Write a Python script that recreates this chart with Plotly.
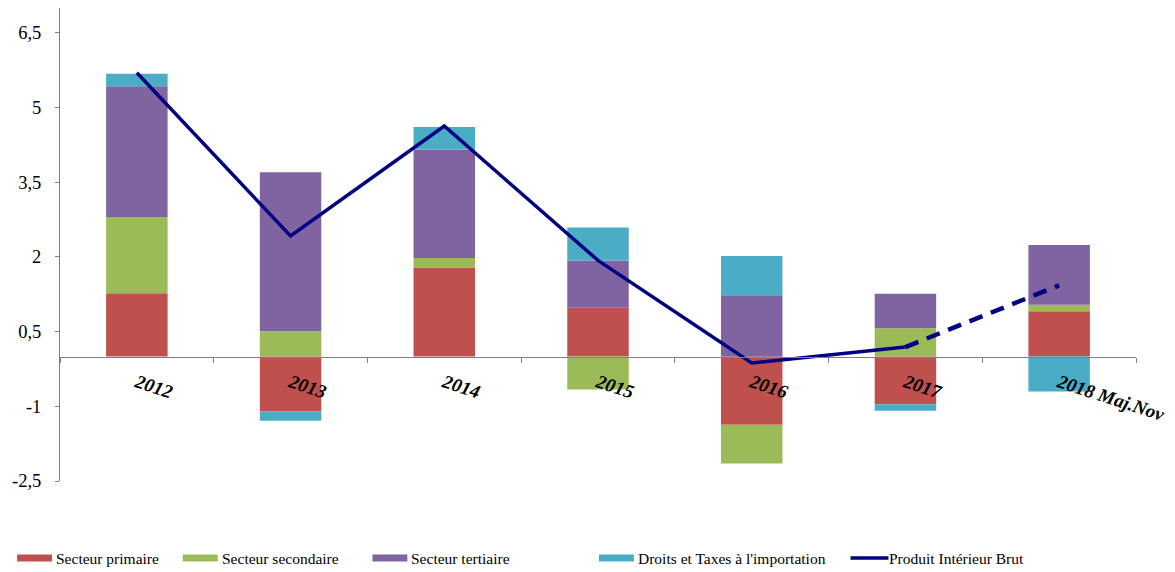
import plotly.graph_objects as go

# Contributions à la croissance du PIB (points de pourcentage)
years = ["2012", "2013", "2014", "2015", "2016", "2017", "2018 Maj.Nov"]
primaire = [1.27, -1.10, 1.79, 0.98, -1.37, -0.96, 0.91]
secondaire = [1.53, 0.51, 0.19, -0.66, -0.78, 0.57, 0.13]
tertiaire = [2.63, 3.19, 2.18, 0.95, 1.23, 0.69, 1.20]
droits = [0.25, -0.19, 0.45, 0.66, 0.79, -0.13, -0.70]
pib = [5.70, 2.42, 4.63, 1.93, -0.13, 0.19, 1.43]

y_ticks = [-2.5, -1, 0.5, 2, 3.5, 5, 6.5]
y_tick_labels = ["-2,5", "-1", "0,5", "2", "3,5", "5", "6,5"]

series = [
    ("Secteur primaire", primaire, "#C0504D"),
    ("Secteur secondaire", secondaire, "#9BBB59"),
    ("Secteur tertiaire", tertiaire, "#8064A2"),
    ("Droits et Taxes à l'importation", droits, "#4BACC6"),
]
pib_name = "Produit Intérieur Brut"
pib_color = "#000080"

FONT = "Liberation Serif"
W, H = 1175, 572
M_L, M_R, M_T, M_B = 60, 37, 8, 91
Y_RANGE = [-2.5, 7.0]

fig = go.Figure()
for name, vals, color in series:
    fig.add_trace(go.Bar(
        x=years, y=vals, name=name, marker_color=color,
        marker_line_width=0, showlegend=False,
    ))

# PIB: observed years solid, last period dashed
fig.add_trace(go.Scatter(
    x=years[:-1], y=pib[:-1], mode="lines", name=pib_name,
    line=dict(color=pib_color, width=3.5), showlegend=False,
))
fig.add_trace(go.Scatter(
    x=years[-2:], y=pib[-2:], mode="lines", name=pib_name,
    line=dict(color=pib_color, width=4.5, dash="14px,9px"), showlegend=False,
))

zero_pos = (0 - Y_RANGE[0]) / (Y_RANGE[1] - Y_RANGE[0])

fig.update_layout(
    width=W, height=H,
    margin=dict(l=M_L, r=M_R, t=M_T, b=M_B),
    paper_bgcolor="white", plot_bgcolor="white",
    barmode="relative", bargap=0.6,
    font=dict(family=FONT, color="black"),
    xaxis=dict(
        type="category", anchor="free", position=zero_pos,
        showline=True, linecolor="#7f7f7f", linewidth=1,
        ticks="outside", tickson="boundaries", ticklen=5, tickcolor="#7f7f7f",
        tickangle=18, ticklabelstandoff=7,
        tickfont=dict(family=FONT, size=19, weight="bold", style="italic", color="black"),
        showgrid=False, zeroline=False,
    ),
    yaxis=dict(
        range=Y_RANGE, tickvals=y_ticks, ticktext=y_tick_labels,
        showline=True, linecolor="#7f7f7f", linewidth=1,
        ticks="outside", ticklen=4, tickcolor="#7f7f7f", ticklabelstandoff=10,
        tickfont=dict(family=FONT, size=18.5, color="black"),
        showgrid=False, zeroline=False,
    ),
    showlegend=False,
)

# Legend row below the chart
plot_w = W - M_L - M_R
plot_h = H - M_T - M_B


def px_x(px):
    return (px - M_L) / plot_w


def px_y(py):
    return (H - M_B - py) / plot_h


legend_y = 558
legend_items = [
    ("bar", series[0][0], series[0][2], 17),
    ("bar", series[1][0], series[1][2], 183),
    ("bar", series[2][0], series[2][2], 373),
    ("bar", series[3][0], series[3][2], 600),
    ("line", pib_name, pib_color, 852),
]
for kind, label, color, x0 in legend_items:
    if kind == "bar":
        fig.add_shape(type="rect", xref="paper", yref="paper",
                      x0=px_x(x0), x1=px_x(x0 + 35),
                      y0=px_y(legend_y - 3.5), y1=px_y(legend_y + 3.5),
                      fillcolor=color, line_width=0)
        tx = x0 + 37
    else:
        fig.add_shape(type="line", xref="paper", yref="paper",
                      x0=px_x(x0), x1=px_x(x0 + 38),
                      y0=px_y(legend_y), y1=px_y(legend_y),
                      line=dict(color=color, width=3.5))
        tx = x0 + 37
    fig.add_annotation(text=label, xref="paper", yref="paper",
                       x=px_x(tx), y=px_y(legend_y), xanchor="left", yanchor="middle",
                       showarrow=False, font=dict(family=FONT, size=15.5, color="black"))

fig.write_html("out.html")
